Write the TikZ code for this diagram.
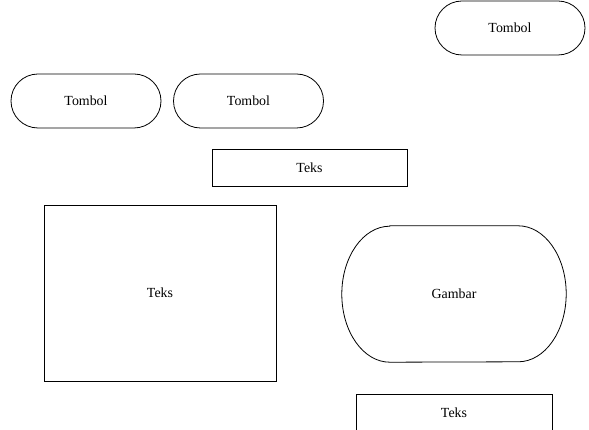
\documentclass[tikz,border=0pt]{standalone}
\usepackage{fontspec}
\setmainfont{Liberation Serif}
\usetikzlibrary{shapes.misc}
\begin{document}
\begin{tikzpicture}[x=1pt,y=-1pt,
  every node/.style={font=\fontsize{13.9}{16}\selectfont, inner sep=0pt},
  btn/.style={draw, line width=0.8pt, rounded rectangle, minimum width=150pt, minimum height=54pt},
  box/.style={draw, line width=0.8pt, rectangle},
  outline/.style={line width=0.8pt}]
\useasboundingbox (0,0) rectangle (589,430);
\node[btn] (b1) at (510,28) {Tombol};
\node[btn] (b2) at (86,101) {Tombol};
\node[btn] (b3) at (248.5,101) {Tombol};
\node[box, minimum width=195pt, minimum height=37pt] (t1) at (309.5,167.5) {Teks};
\node[box, minimum width=232pt, minimum height=176pt] (t2) at (160,293) {Teks};
\node[box, minimum width=196pt, minimum height=37pt] (t3) at (454,412.5) {Teks};
\node[minimum width=224pt, minimum height=136pt] (g) at (454,294) {Gambar};
\draw[outline] ([xshift=48pt]g.north west) -- ([xshift=-48pt]g.north east)
  arc[start angle=90, end angle=-90, x radius=48pt, y radius=68pt]
  -- ([xshift=48pt]g.south west)
  arc[start angle=270, end angle=90, x radius=48pt, y radius=68pt] -- cycle;
\end{tikzpicture}
\end{document}
